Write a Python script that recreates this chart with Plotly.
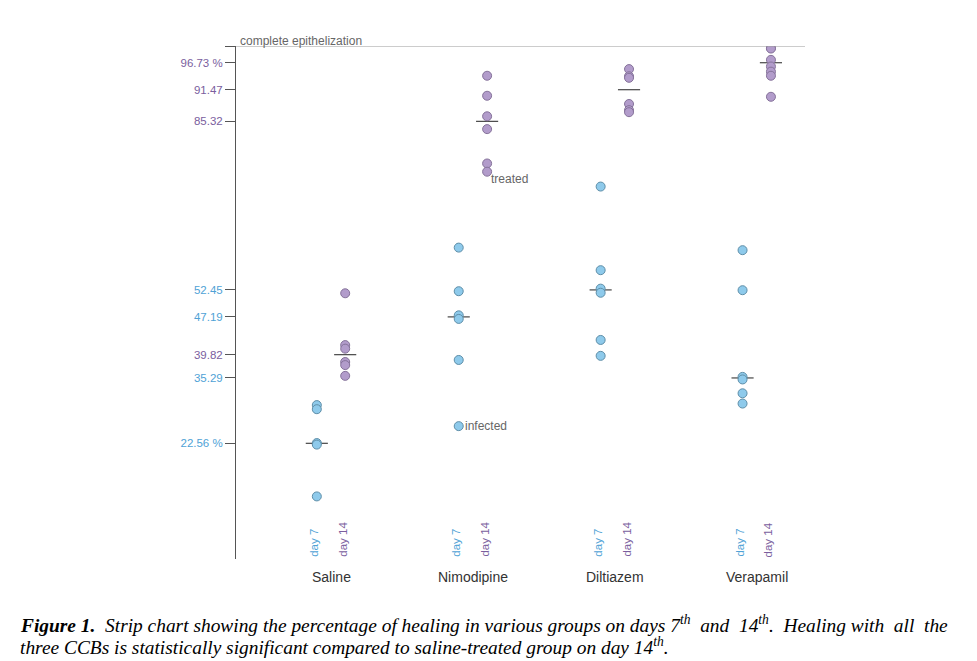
import plotly.graph_objects as go

groups = ["Saline", "Nimodipine", "Diltiazem", "Verapamil"]
day7 = [
    [30.0, 29.2, 22.6, 22.3, 12.2],
    [60.7, 52.2, 47.5, 46.8, 38.8, 25.9],
    [72.6, 56.3, 52.7, 51.9, 42.7, 39.6],
    [60.2, 52.4, 35.5, 35.0, 32.3, 30.3],
]
day14 = [
    [51.8, 41.7, 41.0, 38.4, 37.8, 35.7],
    [94.2, 90.3, 86.3, 83.8, 77.1, 75.5],
    [95.5, 94.1, 93.8, 88.7, 87.5, 87.1],
    [99.6, 99.5, 97.3, 96.0, 95.0, 94.2, 90.1],
]
mean7 = [22.56, 47.19, 52.45, 35.29]
mean14 = [39.82, 85.32, 91.47, 96.73]

BLUE_FILL, BLUE_LINE, BLUE_TXT = "#8ECAEB", "#5E8EA8", "#4FA2D6"
PURP_FILL, PURP_LINE, PURP_TXT = "#B29CCB", "#85729A", "#7A5E9E"
OFF = 0.1
HALF = 0.078

fig = go.Figure()

def strip(vals, off, fill, line):
    xs, ys = [], []
    for i, v in enumerate(vals):
        xs += [i + off] * len(v)
        ys += v
    fig.add_trace(go.Scatter(x=xs, y=ys, mode="markers", showlegend=False,
                             marker=dict(size=9, color=fill, line=dict(color=line, width=1)),
                             hoverinfo="y"))

def means(vals, off):
    xs, ys = [], []
    for i, m in enumerate(vals):
        xs += [i + off - HALF, i + off + HALF, None]
        ys += [m, m, None]
    fig.add_trace(go.Scatter(x=xs, y=ys, mode="lines", showlegend=False,
                             line=dict(color="#222", width=1), hoverinfo="skip"))

means(mean7, -OFF)
means(mean14, OFF)
strip(day7, -OFF, BLUE_FILL, BLUE_LINE)
strip(day14, OFF, PURP_FILL, PURP_LINE)

# y tick labels: means, coloured by day
tickvals = [100]
ticktext = [""]
for i in range(4):
    for m, c in ((mean7[i], BLUE_TXT), (mean14[i], PURP_TXT)):
        lab = f"{m:.2f}"
        if m in (22.56, 96.73):
            lab += " %"
        tickvals.append(m)
        ticktext.append(f'<span style="color:{c}">{lab}</span>')

fig.update_layout(
    width=977, height=661,
    margin=dict(l=236, r=172, t=46, b=102),
    paper_bgcolor="white", plot_bgcolor="white",
    font=dict(family="Liberation Sans, Arial, sans-serif", size=11, color="#444"),
    xaxis=dict(range=[-0.6695, 3.34], showgrid=False, zeroline=False,
               showticklabels=False, showline=False, ticks=""),
    yaxis=dict(range=[0, 100], showgrid=False, zeroline=False,
               showline=True, linecolor="#555", linewidth=1,
               ticks="outside", ticklen=10, tickcolor="#555", tickwidth=1,
               tickvals=tickvals, ticktext=ticktext,
               tickfont=dict(size=11.5)),
)

# complete epithelization line
fig.add_shape(type="line", xref="paper", yref="y", x0=0, x1=1, y0=100, y1=100,
              line=dict(color="#999", width=1))
fig.add_annotation(xref="paper", yref="y", x=0, y=100, xanchor="left", yanchor="bottom",
                   xshift=2, yshift=-4, text="complete epithelization", showarrow=False,
                   font=dict(size=12, color="#666"))

# point labels
fig.add_annotation(x=1 + OFF, y=day14[1][-1], text="treated", showarrow=False,
                   xanchor="left", yanchor="top", xshift=2, yshift=2,
                   font=dict(size=12, color="#666"))
fig.add_annotation(x=1 - OFF, y=day7[1][-1], text="infected", showarrow=False,
                   xanchor="left", yanchor="middle", xshift=4,
                   font=dict(size=12, color="#666"))

# day and group labels
for i, g in enumerate(groups):
    fig.add_annotation(x=i - OFF, y=0, yref="paper", text="day 7", textangle=-90,
                       showarrow=False, xanchor="center", yanchor="bottom", xshift=-3,
                       font=dict(size=11.5, color=BLUE_TXT))
    fig.add_annotation(x=i + OFF, y=0, yref="paper", text="day 14", textangle=-90,
                       showarrow=False, xanchor="center", yanchor="bottom", xshift=-3,
                       font=dict(size=11.5, color=PURP_TXT))
    fig.add_annotation(x=i, y=0, yref="paper", text=g, showarrow=False,
                       xanchor="center", yanchor="top", yshift=-8,
                       font=dict(size=14, color="#333"))

# caption
S = "&nbsp;"
cap1 = ("<b><i>Figure 1.</i></b>" + S * 2 + "<i>Strip chart showing the percentage of healing in various "
        "groups on days 7<sup>th</sup>" + S + " and" + S + " 14<sup>th</sup>." + S + " Healing with" + S +
        " all" + S + " the</i>")
cap2 = ("<i>three CCBs is statistically significant compared to saline-treated group "
        "on day 14<sup>th</sup>.</i>")
px = lambda x: (x - 236) / 569
py = lambda y: (558.7 - y) / 512.7
fig.add_annotation(xref="paper", yref="paper", x=px(18), y=py(624), text=cap1,
                   showarrow=False, xanchor="left", yanchor="middle",
                   font=dict(family="Liberation Serif, Times New Roman, serif", size=19.4, color="#000"))
fig.add_annotation(xref="paper", yref="paper", x=px(18), y=py(646), text=cap2,
                   showarrow=False, xanchor="left", yanchor="middle",
                   font=dict(family="Liberation Serif, Times New Roman, serif", size=19.4, color="#000"))

fig.write_html("out.html", config={"displayModeBar": False},
               post_script="document.body.style.margin='0';document.body.style.overflow='hidden';")
